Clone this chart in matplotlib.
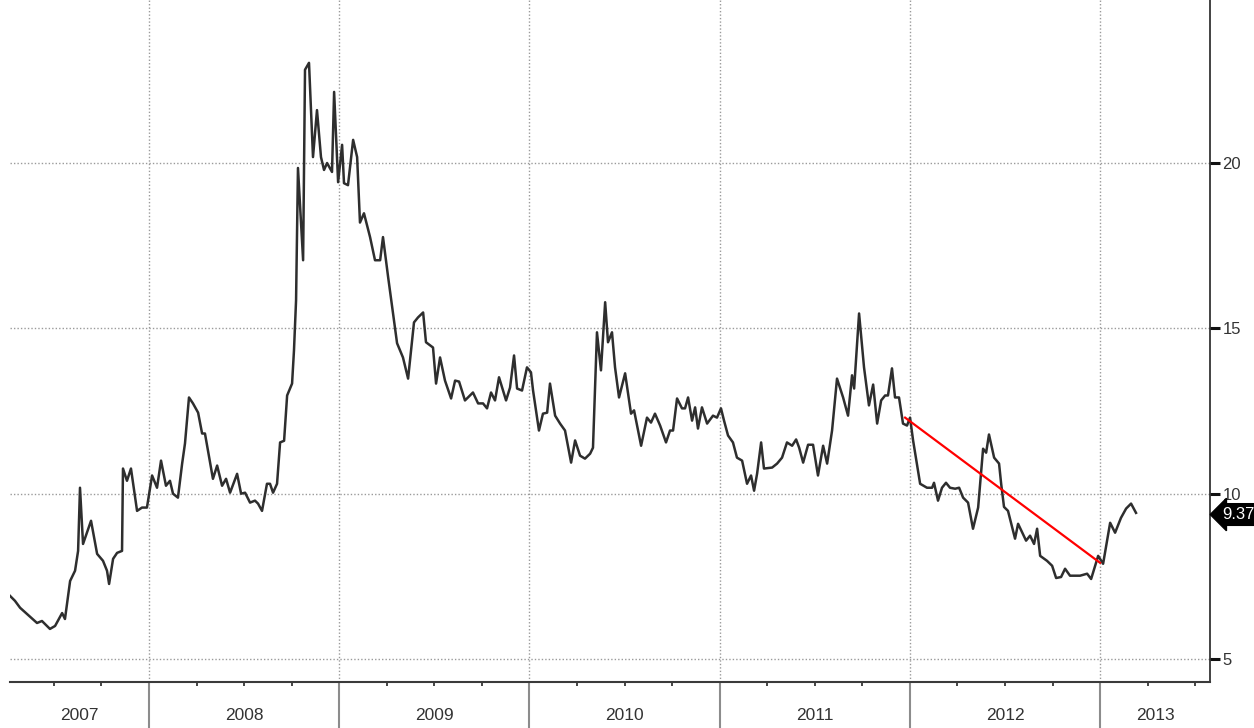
import matplotlib
matplotlib.use("Agg")
import matplotlib.pyplot as plt
from matplotlib.ticker import FixedLocator, NullFormatter
import numpy as np

# ---- data (decimal year, value) ----
dates = [
    2007.269, 2007.295, 2007.322, 2007.359, 2007.411, 2007.437, 2007.453, 2007.479, 2007.506, 2007.543,
    2007.558, 2007.585, 2007.611, 2007.627, 2007.637, 2007.653, 2007.695, 2007.727, 2007.758, 2007.779,
    2007.790, 2007.811, 2007.832, 2007.858, 2007.863, 2007.884, 2007.905, 2007.937, 2007.963, 2007.989,
    2008.016, 2008.042, 2008.063, 2008.089, 2008.110, 2008.126, 2008.152, 2008.174, 2008.189, 2008.210,
    2008.231, 2008.258, 2008.279, 2008.294, 2008.310, 2008.336, 2008.358, 2008.384, 2008.405, 2008.426,
    2008.463, 2008.484, 2008.505, 2008.531, 2008.557, 2008.573, 2008.594, 2008.620, 2008.636, 2008.652,
    2008.673, 2008.689, 2008.710, 2008.726, 2008.752, 2008.762, 2008.773, 2008.783, 2008.810, 2008.820,
    2008.841, 2008.862, 2008.883, 2008.904, 2008.920, 2008.936, 2008.962, 2008.973, 2008.994, 2009.015,
    2009.025, 2009.046, 2009.073, 2009.094, 2009.109, 2009.130, 2009.162, 2009.188, 2009.215, 2009.230,
    2009.257, 2009.304, 2009.335, 2009.362, 2009.393, 2009.414, 2009.441, 2009.456, 2009.493, 2009.509,
    2009.530, 2009.556, 2009.588, 2009.609, 2009.630, 2009.661, 2009.703, 2009.730, 2009.756, 2009.777,
    2009.798, 2009.819, 2009.840, 2009.877, 2009.898, 2009.919, 2009.935, 2009.961, 2009.987, 2010.008,
    2010.019, 2010.050, 2010.071, 2010.093, 2010.108, 2010.135, 2010.161, 2010.187, 2010.219, 2010.240,
    2010.266, 2010.292, 2010.319, 2010.334, 2010.355, 2010.376, 2010.398, 2010.413, 2010.434, 2010.450,
    2010.471, 2010.503, 2010.534, 2010.550, 2010.587, 2010.618, 2010.639, 2010.660, 2010.687, 2010.718,
    2010.739, 2010.755, 2010.776, 2010.802, 2010.818, 2010.834, 2010.855, 2010.871, 2010.886, 2010.907,
    2010.934, 2010.965, 2010.986, 2011.007, 2011.023, 2011.044, 2011.070, 2011.091, 2011.118, 2011.144,
    2011.165, 2011.181, 2011.197, 2011.218, 2011.233, 2011.276, 2011.302, 2011.328, 2011.354, 2011.381,
    2011.402, 2011.418, 2011.439, 2011.465, 2011.491, 2011.517, 2011.544, 2011.565, 2011.591, 2011.617,
    2011.649, 2011.675, 2011.696, 2011.707, 2011.733, 2011.759, 2011.785, 2011.807, 2011.828, 2011.849,
    2011.870, 2011.885, 2011.906, 2011.922, 2011.943, 2011.964, 2011.985, 2012.001, 2012.017, 2012.054,
    2012.090, 2012.117, 2012.127, 2012.148, 2012.169, 2012.190, 2012.211, 2012.238, 2012.259, 2012.280,
    2012.306, 2012.332, 2012.359, 2012.385, 2012.401, 2012.416, 2012.443, 2012.469, 2012.480, 2012.495,
    2012.516, 2012.553, 2012.569, 2012.611, 2012.632, 2012.653, 2012.669, 2012.685, 2012.721, 2012.748,
    2012.769, 2012.795, 2012.816, 2012.842, 2012.895, 2012.932, 2012.953, 2012.974, 2012.990, 2013.016,
    2013.053, 2013.079, 2013.110, 2013.137, 2013.163, 2013.189,
]
values = [
    6.91, 6.76, 6.55, 6.36, 6.09, 6.15, 6.06, 5.91, 6.00, 6.39,
    6.21, 7.36, 7.67, 8.27, 10.18, 8.48, 9.18, 8.18, 7.97, 7.67,
    7.27, 8.03, 8.21, 8.27, 10.76, 10.39, 10.76, 9.48, 9.58, 9.58,
    10.55, 10.18, 11.00, 10.24, 10.39, 10.00, 9.88, 10.91, 11.52, 12.91,
    12.73, 12.45, 11.82, 11.82, 11.30, 10.45, 10.85, 10.24, 10.45, 10.03,
    10.60, 10.00, 10.03, 9.73, 9.79, 9.70, 9.48, 10.30, 10.30, 10.03,
    10.30, 11.55, 11.60, 12.97, 13.33, 14.33, 15.85, 19.85, 17.06, 22.82,
    23.03, 20.18, 21.60, 20.18, 19.79, 20.00, 19.73, 22.15, 19.42, 20.55,
    19.39, 19.33, 20.70, 20.18, 18.20, 18.48, 17.76, 17.06, 17.06, 17.76,
    16.55, 14.55, 14.12, 13.48, 15.18, 15.33, 15.48, 14.58, 14.42, 13.33,
    14.12, 13.42, 12.88, 13.42, 13.39, 12.82, 13.06, 12.73, 12.73, 12.58,
    13.06, 12.82, 13.52, 12.82, 13.21, 14.18, 13.18, 13.12, 13.82, 13.67,
    13.12, 11.91, 12.42, 12.45, 13.33, 12.36, 12.12, 11.91, 10.94, 11.61,
    11.15, 11.06, 11.21, 11.39, 14.88, 13.73, 15.79, 14.58, 14.88, 13.82,
    12.91, 13.64, 12.42, 12.52, 11.45, 12.30, 12.15, 12.42, 12.06, 11.55,
    11.91, 11.91, 12.88, 12.58, 12.58, 12.91, 12.21, 12.61, 11.97, 12.61,
    12.12, 12.36, 12.30, 12.58, 12.21, 11.76, 11.55, 11.09, 11.00, 10.30,
    10.55, 10.09, 10.61, 11.55, 10.76, 10.79, 10.91, 11.09, 11.55, 11.45,
    11.64, 11.39, 10.94, 11.48, 11.48, 10.55, 11.45, 10.91, 11.91, 13.48,
    12.91, 12.36, 13.58, 13.18, 15.45, 13.82, 12.67, 13.30, 12.12, 12.82,
    12.97, 12.97, 13.79, 12.91, 12.91, 12.12, 12.06, 12.30, 11.61, 10.30,
    10.18, 10.18, 10.33, 9.79, 10.18, 10.33, 10.18, 10.15, 10.18, 9.88,
    9.73, 8.94, 9.58, 11.36, 11.24, 11.79, 11.09, 10.91, 10.30, 9.60,
    9.48, 8.64, 9.09, 8.58, 8.73, 8.48, 8.94, 8.12, 7.97, 7.82,
    7.45, 7.48, 7.73, 7.52, 7.52, 7.58, 7.42, 7.82, 8.12, 7.88,
    9.12, 8.82, 9.27, 9.55, 9.70, 9.42,
]
trend_x = [2011.975, 2013.000]
trend_y = [12.30, 7.91]
last_label = "9.37"
last_value = 9.37
years = [2007, 2008, 2009, 2010, 2011, 2012, 2013]
year_starts = [2008, 2009, 2010, 2011, 2012, 2013]
y_ticks = [5, 10, 15, 20]
x_range = (2007.269, 2013.578)
y_range = (4.305, 24.93)

# ---- figure ----
W, H = 1254, 728
fig = plt.figure(figsize=(W / 100, H / 100), dpi=100)
fig.patch.set_facecolor("white")
ax = fig.add_axes([10 / W, 1 - 682 / H, 1200 / W, 682 / H])
ax.set_facecolor("white")

ax.plot(dates, values, color="#2e2e2e", lw=1.8, solid_joinstyle="round", zorder=3)
ax.plot(trend_x, trend_y, color="#ff0000", lw=1.6, zorder=4)

ax.set_xlim(*x_range)
ax.set_ylim(*y_range)

# grid
for y in y_ticks:
    ax.axhline(y, color="#9a9a9a", lw=1.0, ls=(0, (1, 1.5)), zorder=1)
for x in year_starts:
    ax.axvline(x, color="#9a9a9a", lw=1.0, ls=(0, (1, 1.5)), zorder=1)

# spines
for s in ["top", "left"]:
    ax.spines[s].set_visible(False)
ax.spines["bottom"].set_color("#3a3a3a")
ax.spines["bottom"].set_linewidth(1.5)
ax.spines["right"].set_color("#222222")
ax.spines["right"].set_linewidth(1.2)

# y axis on right
ax.yaxis.tick_right()
ax.yaxis.set_label_position("right")
ax.set_yticks(y_ticks)
ax.set_yticklabels([str(v) for v in y_ticks], fontsize=12, color="#333333",
                   family=["Liberation Sans", "DejaVu Sans"])
ax.tick_params(axis="y", which="major", direction="out", length=7, width=2.2,
               color="#111111", pad=2)

# x axis: year separators as long grey ticks, quarters as minor ticks
ax.xaxis.set_major_locator(FixedLocator(year_starts))
ax.xaxis.set_major_formatter(NullFormatter())
quarters = [y + q for y in years for q in (0.25, 0.5, 0.75)
            if x_range[0] < y + q < x_range[1]]
ax.xaxis.set_minor_locator(FixedLocator(quarters))
ax.tick_params(axis="x", which="major", direction="out", length=34, width=1.5,
               color="#8c8c8c")
ax.tick_params(axis="x", which="minor", direction="out", length=3, width=1.4,
               color="#444444")

# year labels centred in each segment
bounds = [x_range[0]] + year_starts + [x_range[1]]
trans = ax.get_xaxis_transform()
for yr, a, b in zip(years, bounds[:-1], bounds[1:]):
    ax.text((a + b) / 2, -34 / 682, str(yr), transform=trans, ha="center",
            va="center", fontsize=12.5, color="#333333",
            family=["Liberation Sans", "DejaVu Sans"])

# last value tag
ax.text(1.010, last_value, last_label, transform=ax.get_yaxis_transform(),
        ha="left", va="center", fontsize=12, color="white",
        family=["Liberation Sans", "DejaVu Sans"], clip_on=False,
        bbox=dict(boxstyle="larrow,pad=0.2", fc="black", ec="black"))

fig.savefig("out.png", dpi=100, facecolor="white")
